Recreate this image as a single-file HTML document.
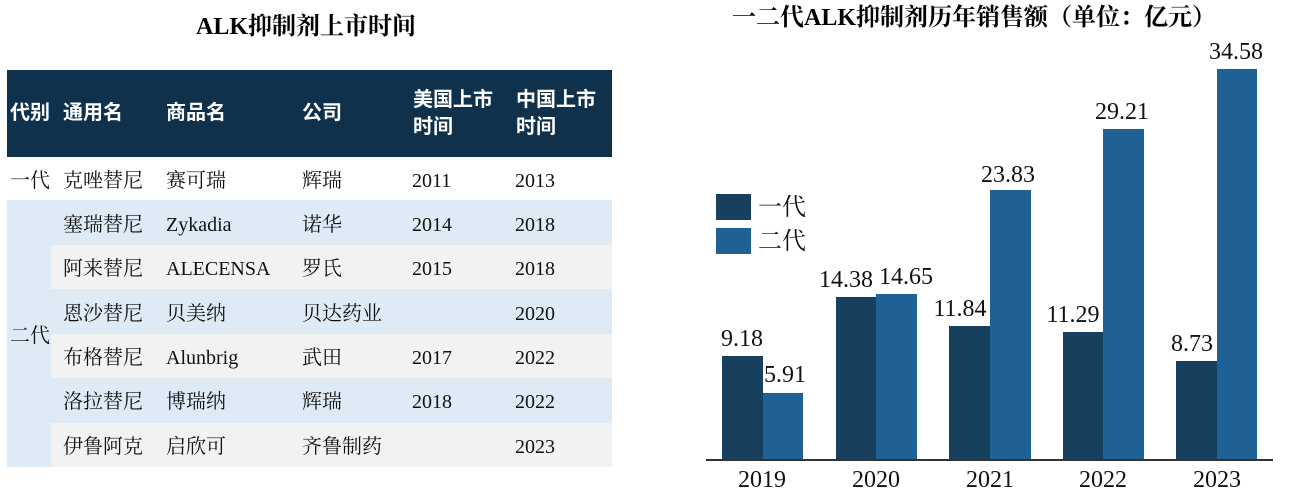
<!DOCTYPE html>
<html><head><meta charset="utf-8"><style>
body{margin:0;width:1293px;height:496px;background:#fff;position:relative;overflow:hidden;font-family:"Liberation Serif","Noto Serif CJK SC",serif;}
.a{position:absolute;white-space:nowrap;}
.t{font-weight:bold;font-size:24px;line-height:28px;color:#000;}
.hd{background:#0f314c;left:7px;top:70px;width:605px;height:87px;}
.h{color:#fff;font-weight:bold;font-size:20px;line-height:27px;font-family:"Liberation Sans","Noto Sans CJK SC",sans-serif;}
.r{position:absolute;left:51px;width:561px;height:44.5px;}
.c{position:absolute;font-size:20px;line-height:22px;color:#111;white-space:nowrap;}
.bar{position:absolute;}
.v{position:absolute;font-size:24px;line-height:24px;width:80px;text-align:center;color:#111;}
</style></head><body>
<div class="a t" style="left:196px;top:13px;">ALK抑制剂上市时间</div>
<div class="a hd"></div>
<div class="a h" style="left:10px;top:100px;">代别</div>
<div class="a h" style="left:63px;top:100px;">通用名</div>
<div class="a h" style="left:166px;top:100px;">商品名</div>
<div class="a h" style="left:302px;top:100px;">公司</div>
<div class="a h" style="left:413px;top:87px;">美国上市<br>时间</div>
<div class="a h" style="left:516px;top:87px;">中国上市<br>时间</div>
<div class="a" style="left:7px;top:200px;width:44px;height:267px;background:#deebf7"></div>
<div class="r" style="top:200px;background:#deebf7"></div>
<div class="r" style="top:244.5px;background:#f2f2f2"></div>
<div class="r" style="top:289px;background:#deebf7"></div>
<div class="r" style="top:333.5px;background:#f2f2f2"></div>
<div class="r" style="top:378px;background:#deebf7"></div>
<div class="r" style="top:422.5px;background:#f2f2f2"></div>
<div class="c" style="left:10px;top:170px">一代</div>
<div class="c" style="left:10px;top:325px">二代</div>
<div class="c" style="left:63px;top:170px">克唑替尼</div><div class="c" style="left:166px;top:170px">赛可瑞</div><div class="c" style="left:302px;top:170px">辉瑞</div><div class="c" style="left:412px;top:170px">2011</div><div class="c" style="left:515px;top:170px">2013</div>
<div class="c" style="left:63px;top:214px">塞瑞替尼</div><div class="c" style="left:166px;top:214px">Zykadia</div><div class="c" style="left:302px;top:214px">诺华</div><div class="c" style="left:412px;top:214px">2014</div><div class="c" style="left:515px;top:214px">2018</div>
<div class="c" style="left:63px;top:258px">阿来替尼</div><div class="c" style="left:166px;top:258px">ALECENSA</div><div class="c" style="left:302px;top:258px">罗氏</div><div class="c" style="left:412px;top:258px">2015</div><div class="c" style="left:515px;top:258px">2018</div>
<div class="c" style="left:63px;top:303px">恩沙替尼</div><div class="c" style="left:166px;top:303px">贝美纳</div><div class="c" style="left:302px;top:303px">贝达药业</div><div class="c" style="left:515px;top:303px">2020</div>
<div class="c" style="left:63px;top:347px">布格替尼</div><div class="c" style="left:166px;top:347px">Alunbrig</div><div class="c" style="left:302px;top:347px">武田</div><div class="c" style="left:412px;top:347px">2017</div><div class="c" style="left:515px;top:347px">2022</div>
<div class="c" style="left:63px;top:391px">洛拉替尼</div><div class="c" style="left:166px;top:391px">博瑞纳</div><div class="c" style="left:302px;top:391px">辉瑞</div><div class="c" style="left:412px;top:391px">2018</div><div class="c" style="left:515px;top:391px">2022</div>
<div class="c" style="left:63px;top:436px">伊鲁阿克</div><div class="c" style="left:166px;top:436px">启欣可</div><div class="c" style="left:302px;top:436px">齐鲁制药</div><div class="c" style="left:515px;top:436px">2023</div>

<div class="a t" style="left:732px;top:4px;">一二代ALK抑制剂历年销售额（单位：亿元）</div>
<div class="bar" style="left:716px;top:194px;width:35px;height:26px;background:#17405f"></div>
<div class="bar" style="left:716px;top:228px;width:35px;height:26px;background:#1f6095"></div>
<div class="c" style="left:758px;top:195px;font-size:24px;line-height:26px">一代</div>
<div class="c" style="left:758px;top:229px;font-size:24px;line-height:26px">二代</div>

<div class="bar" style="left:722px;top:356px;width:41px;height:104px;background:#17405f"></div>
<div class="bar" style="left:763px;top:393px;width:40px;height:67px;background:#1f6095"></div>
<div class="bar" style="left:836px;top:297px;width:40px;height:163px;background:#17405f"></div>
<div class="bar" style="left:876px;top:294px;width:41px;height:166px;background:#1f6095"></div>
<div class="bar" style="left:949px;top:326px;width:41px;height:134px;background:#17405f"></div>
<div class="bar" style="left:990px;top:190px;width:41px;height:270px;background:#1f6095"></div>
<div class="bar" style="left:1063px;top:332px;width:40px;height:128px;background:#17405f"></div>
<div class="bar" style="left:1103px;top:129px;width:41px;height:331px;background:#1f6095"></div>
<div class="bar" style="left:1176px;top:361px;width:41px;height:99px;background:#17405f"></div>
<div class="bar" style="left:1217px;top:69px;width:40px;height:391px;background:#1f6095"></div>
<div class="bar" style="left:706px;top:459px;width:567px;height:2px;background:#333"></div>

<div class="v" style="left:702px;top:327px">9.18</div>
<div class="v" style="left:745px;top:363px">5.91</div>
<div class="v" style="left:806px;top:268px">14.38</div>
<div class="v" style="left:866px;top:265px">14.65</div>
<div class="v" style="left:920px;top:297px">11.84</div>
<div class="v" style="left:968px;top:163px">23.83</div>
<div class="v" style="left:1033px;top:303px">11.29</div>
<div class="v" style="left:1082px;top:100px">29.21</div>
<div class="v" style="left:1152px;top:332px">8.73</div>
<div class="v" style="left:1196px;top:40px">34.58</div>

<div class="v" style="left:722px;top:468px">2019</div>
<div class="v" style="left:836px;top:468px">2020</div>
<div class="v" style="left:950px;top:468px">2021</div>
<div class="v" style="left:1063px;top:468px">2022</div>
<div class="v" style="left:1177px;top:468px">2023</div>
</body></html>
